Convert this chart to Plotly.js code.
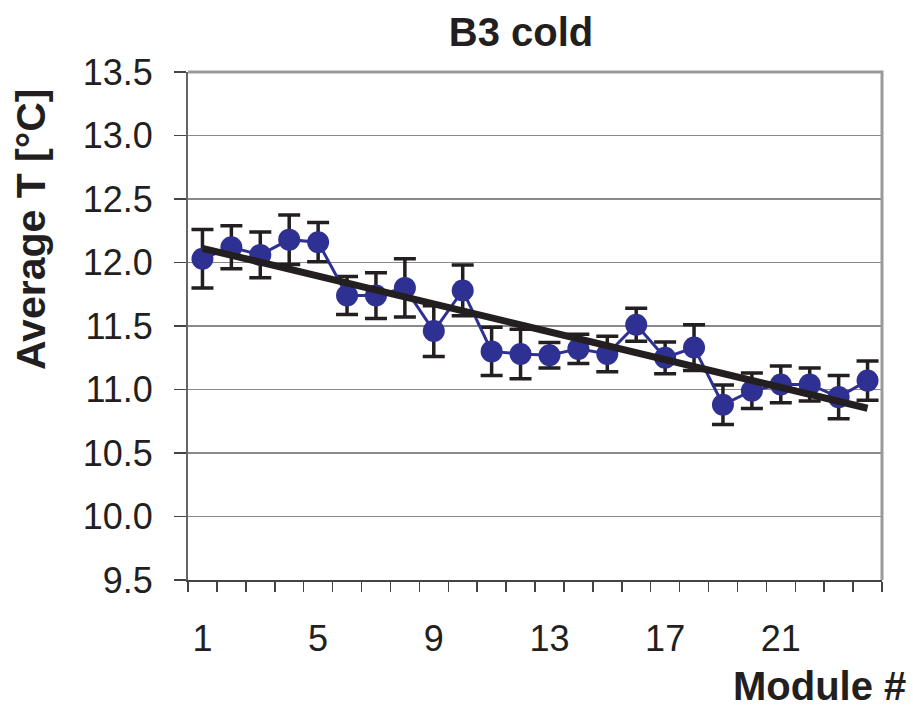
<!DOCTYPE html>
<html>
<head>
<meta charset="utf-8">
<script src="https://cdn.plot.ly/plotly-3.0.1.min.js"></script>
<style>html,body{margin:0;padding:0;background:#fff;}#chart{width:913px;height:710px;}</style>
</head>
<body>
<div id="chart"></div>
<script>
const modules = [1,2,3,4,5,6,7,8,9,10,11,12,13,14,15,16,17,18,19,20,21,22,23,24];
const avgT = [12.03,12.12,12.06,12.18,12.16,11.74,11.74,11.80,11.46,11.78,11.30,11.28,11.27,11.32,11.28,11.51,11.25,11.33,10.88,10.99,11.04,11.04,10.94,11.07];
const errT = [0.23,0.17,0.18,0.195,0.155,0.15,0.18,0.23,0.20,0.20,0.19,0.195,0.10,0.115,0.14,0.13,0.125,0.18,0.155,0.14,0.145,0.13,0.17,0.155];
const xTickVals = [1,5,9,13,17,21];
const yTickVals = [9.5,10.0,10.5,11.0,11.5,12.0,12.5,13.0,13.5];

// linear least-squares trendline from the data
const n = modules.length;
const mx = modules.reduce((a,b)=>a+b,0)/n;
const my = avgT.reduce((a,b)=>a+b,0)/n;
let sxy=0, sxx=0;
for (let i=0;i<n;i++){ sxy += (modules[i]-mx)*(avgT[i]-my); sxx += (modules[i]-mx)**2; }
const slope = sxy/sxx, icpt = my - slope*mx;
const trendX = [modules[0], modules[n-1]];
const trendY = trendX.map(x => icpt + slope*x);

const blue = '#2E3192';
const dark = '#231F20';
const FONT = 'Liberation Sans, Arial, sans-serif';

const data = [
  {
    x: modules, y: avgT, type: 'scatter', mode: 'lines+markers',
    line: {color: blue, width: 3},
    marker: {color: blue, size: 22},
    error_y: {type: 'data', array: errT, visible: true, color: dark, thickness: 3.5, width: 11},
    showlegend: false, hoverinfo: 'x+y'
  },
  {
    x: trendX, y: trendY, type: 'scatter', mode: 'lines',
    line: {color: dark, width: 7},
    showlegend: false, hoverinfo: 'skip'
  }
];

const layout = {
  width: 913, height: 710,
  margin: {l: 188, r: 31, t: 72, b: 130},
  paper_bgcolor: '#fff', plot_bgcolor: '#fff',
  font: {family: FONT, color: dark},
  title: {text: '<b>B3 cold</b>', font: {family: FONT, size: 40, color: dark},
          x: 521/913, xanchor: 'center', xref: 'container',
          y: 1 - 32/710, yanchor: 'middle', yref: 'container'},
  xaxis: {
    range: [0.5, 24.5], tickmode: 'array', tickvals: xTickVals, ticktext: xTickVals.map(String),
    ticks: '', showgrid: false, zeroline: false,
    showline: true, linecolor: '#444', linewidth: 2,
    tickfont: {family: FONT, size: 36, color: dark},
    ticklabelstandoff: 26,
    minor: {ticks: 'outside', tick0: 0.5, dtick: 1, ticklen: 10, tickwidth: 1.5, tickcolor: '#444', showgrid: false}
  },
  yaxis: {
    range: [9.5, 13.5], tickmode: 'array', tickvals: yTickVals, ticktext: yTickVals.map(v => v.toFixed(1)),
    ticks: 'outside', ticklen: 12, tickwidth: 1.5, tickcolor: '#444',
    showgrid: true, gridcolor: '#8a8a8a', gridwidth: 1.5, zeroline: false,
    showline: true, linecolor: '#666', linewidth: 2,
    tickfont: {family: FONT, size: 36, color: dark},
    ticklabelstandoff: 14
  },
  shapes: [
    {type: 'path', xref: 'paper', yref: 'paper', path: 'M 0 1 L 1 1 L 1 0', line: {color: '#9a9a9a', width: 3}, layer: 'above'}
  ],
  annotations: [
    {text: '<b>Average T [°C]</b>', textangle: -90, showarrow: false,
     xref: 'paper', yref: 'paper', x: (31-188)/694, y: (580-230)/508, xanchor: 'center', yanchor: 'middle',
     font: {family: FONT, size: 41, color: dark}},
    {text: '<b>Module #</b>', showarrow: false,
     xref: 'paper', yref: 'paper', x: (908-188)/694, y: (580-686)/508, xanchor: 'right', yanchor: 'middle',
     font: {family: FONT, size: 40, color: dark}}
  ]
};

Plotly.newPlot('chart', data, layout, {displayModeBar: false, staticPlot: true});
</script>
</body>
</html>
